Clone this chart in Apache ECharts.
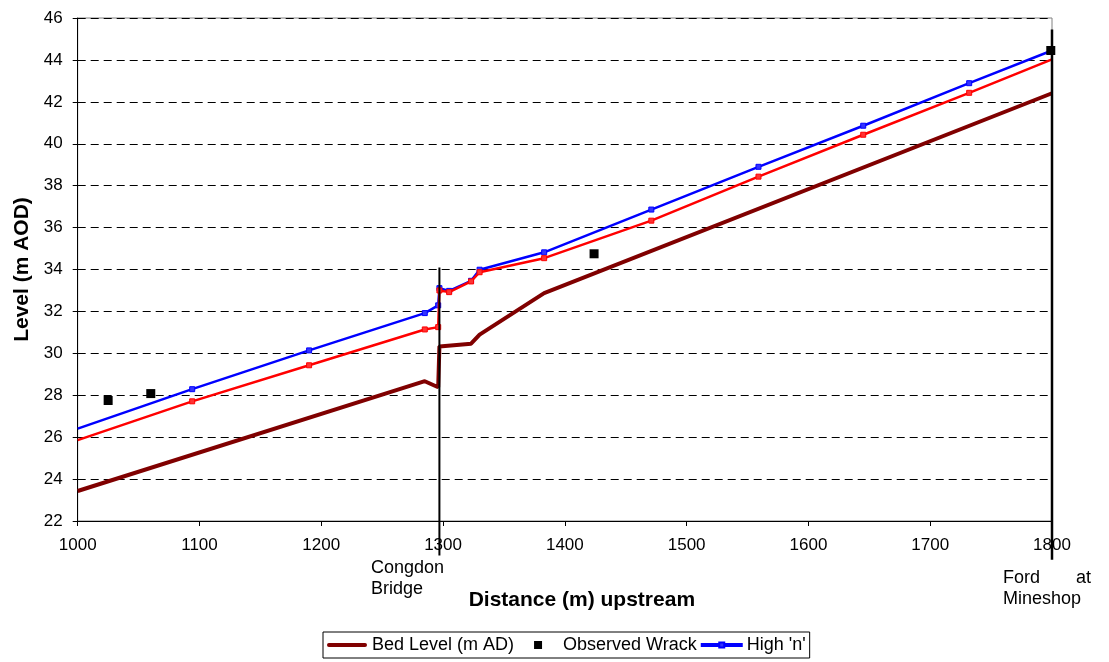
<!DOCTYPE html>
<html>
<head>
<meta charset="utf-8">
<script src="https://cdn.jsdelivr.net/npm/echarts@6/dist/echarts.min.js"></script>
<style>html,body{margin:0;padding:0;background:#fff}#c{width:1109px;height:662px}</style>
</head>
<body>
<div id="c"></div>
<script>
// ---- data ----
const bedX = [1000, 1285, 1296, 1297, 1323, 1330, 1383, 1800];
const bedY = [23.43, 28.67, 28.38, 30.33, 30.46, 30.89, 32.87, 42.41];

const nX = [1000, 1094, 1190, 1285, 1296, 1297, 1305, 1323, 1330, 1383, 1471, 1559, 1645, 1732, 1800];
const highY = [26.41, 28.29, 30.14, 31.92, 32.29, 33.11, 32.98, 33.46, 33.99, 34.82, 36.86, 38.90, 40.86, 42.89, 44.45];
const lowY  = [25.86, 27.71, 29.43, 31.14, 31.25, 33.00, 32.92, 33.43, 33.87, 34.54, 36.33, 38.43, 40.43, 42.43, 44.03];

const wrackX = [1025, 1060, 1424, 1799];
const wrackY = [27.75, 28.08, 34.75, 44.45];

const xTicks = { min: 1000, max: 1800, step: 100 };
const yTicks = { min: 22, max: 46, step: 2 };

const markers = [
  { x: 1297, yTop: 34.1, yBottom: 20.35 },
  { x: 1800, yTop: 45.45, yBottom: 20.15 }
];

const FONT = "'Liberation Sans', Arial, sans-serif";

function pts(xs, ys, endNoSymbol) {
  return xs.map((x, i) => {
    const d = { value: [x, ys[i]] };
    if (endNoSymbol && (i === 0 || i === xs.length - 1)) d.symbol = 'none';
    return d;
  });
}

const chart = echarts.init(document.getElementById('c'), null, { renderer: 'canvas' });

const option = {
  animation: false,
  backgroundColor: '#ffffff',
  textStyle: { fontFamily: FONT, color: '#000' },
  grid: {
    left: 77.7, right: 57, top: 18, bottom: 141,
    show: true, borderColor: '#808080', borderWidth: 1, backgroundColor: 'transparent'
  },
  xAxis: {
    type: 'value', min: xTicks.min, max: xTicks.max, interval: xTicks.step,
    name: 'Distance (m) upstream', nameLocation: 'middle', nameGap: 69,
    nameTextStyle: { fontFamily: FONT, fontSize: 21, fontWeight: 'bold', color: '#000', padding: [0, 0, 0, 34] },
    axisLine: { show: true, lineStyle: { color: '#000', width: 1 } },
    axisTick: { show: true, length: 5, lineStyle: { color: '#000' } },
    axisLabel: { fontFamily: FONT, fontSize: 17, color: '#000', margin: 16, formatter: v => String(v) },
    splitLine: { show: false }
  },
  yAxis: {
    type: 'value', min: yTicks.min, max: yTicks.max, interval: yTicks.step,
    name: 'Level (m AOD)', nameLocation: 'middle', nameGap: 43, nameRotate: 90,
    nameTextStyle: { fontFamily: FONT, fontSize: 21, fontWeight: 'bold', color: '#000' },
    axisLine: { show: true, lineStyle: { color: '#000', width: 1 } },
    axisTick: { show: true, length: 5, lineStyle: { color: '#000' } },
    axisLabel: { fontFamily: FONT, fontSize: 17, color: '#000', margin: 15, formatter: v => String(v) },
    splitLine: { show: true, lineStyle: { color: '#000', width: 1, type: [8, 5] } }
  },
  legend: {
    left: 323, top: 632,
    data: [
      { name: 'Bed Level (m AD)', icon: 'path://M0,0M40,10M1,3h38a2,2 0 0 1 0,4h-38a2,2 0 0 1 0,-4z' },
      { name: 'Observed Wrack', icon: 'path://M0,0M40,10M16,1h8v8h-8z' },
      { name: "High 'n'", icon: 'path://M0,0M40,10M0,4h17.5v-1.5h5v1.5h17.5v2h-17.5v1.5h-5v-1.5h-17.5z' }
    ],
    borderColor: '#000', borderWidth: 1, padding: [4, 4],
    itemGap: 4, itemWidth: 40, itemHeight: 10,
    textStyle: { fontFamily: FONT, fontSize: 18, color: '#000' }
  },
  series: [
    {
      name: 'Bed Level (m AD)', type: 'line', data: pts(bedX, bedY), showSymbol: false, symbol: 'none',
      lineStyle: { color: '#800000', width: 4 }, itemStyle: { color: '#800000' }, z: 2
    },
    {
      name: "High 'n'", type: 'line', data: pts(nX, highY, true), symbol: 'rect', symbolSize: 5,
      lineStyle: { color: '#0000ff', width: 2.5 }, itemStyle: { color: '#3333ff', borderColor: '#0000ff', borderWidth: 1 }, z: 3
    },
    {
      name: "Low 'n'", type: 'line', data: pts(nX, lowY, true), symbol: 'rect', symbolSize: 5,
      lineStyle: { color: '#ff0000', width: 2.5 }, itemStyle: { color: '#ff3333', borderColor: '#ff0000', borderWidth: 1 }, z: 4
    },
    {
      name: 'Observed Wrack', type: 'scatter', data: pts(wrackX, wrackY), symbol: 'rect', symbolSize: 9,
      itemStyle: { color: '#000', opacity: 1 }, z: 5
    }
  ]
};

chart.setOption(option);

function addOverlays() {
  const g = [];
  markers.forEach((m, idx) => {
    const top = chart.convertToPixel({ gridIndex: 0 }, [m.x, m.yTop]);
    const bot = chart.convertToPixel({ gridIndex: 0 }, [m.x, m.yBottom]);
    g.push({
      type: 'line', z: 10,
      shape: { x1: top[0], y1: top[1], x2: bot[0], y2: bot[1] },
      style: { stroke: '#000', lineWidth: idx === 0 ? 2 : 2.5 }
    });
  });
  g.push({ type: 'text', left: 371, top: 559, z: 10, style: { text: 'Congdon', font: '18px ' + FONT, fill: '#000' } });
  g.push({ type: 'text', left: 371, top: 580, z: 10, style: { text: 'Bridge', font: '18px ' + FONT, fill: '#000' } });
  g.push({ type: 'text', left: 1003, top: 569, z: 10, style: { text: 'Ford', font: '18px ' + FONT, fill: '#000' } });
  g.push({ type: 'text', left: 1076, top: 569, z: 10, style: { text: 'at', font: '18px ' + FONT, fill: '#000' } });
  g.push({ type: 'text', left: 1003, top: 590, z: 10, style: { text: 'Mineshop', font: '18px ' + FONT, fill: '#000' } });
  chart.setOption({ graphic: g });
}
addOverlays();
</script>
</body>
</html>
